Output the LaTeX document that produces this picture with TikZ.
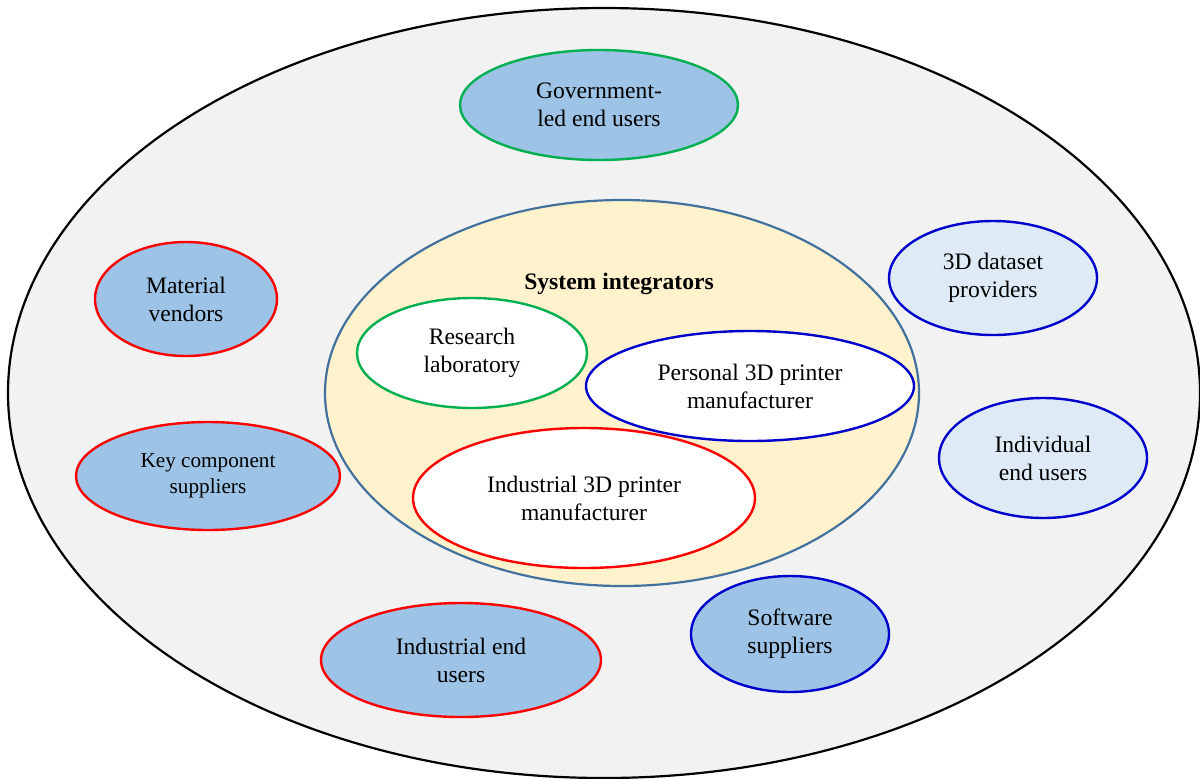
\documentclass[tikz,border=0pt]{standalone}
\usepackage{fontspec}
\setmainfont{Liberation Serif}
\usepackage{xcolor}
\usetikzlibrary{shapes.geometric}

\definecolor{outergrey}{HTML}{F2F2F2}
\definecolor{sysyellow}{HTML}{FFF2CC}
\definecolor{sysborder}{HTML}{41719C}
\definecolor{darkfill}{HTML}{9DC3E6}
\definecolor{lightfill}{HTML}{DEEBF7}
\definecolor{greenline}{HTML}{00B050}
\definecolor{redline}{HTML}{FF0000}
\definecolor{blueline}{HTML}{0000CC}

\tikzset{
  actor/.style={ellipse, draw, line width=1.2pt, inner sep=0pt, align=center,
    font=\fontsize{11.8}{14}\selectfont},
  greenact/.style={actor, draw=greenline},
  redact/.style={actor, draw=redline},
  blueact/.style={actor, draw=blueline}
}

\begin{document}
\begin{tikzpicture}[x=0.5pt,y=-0.5pt]
      \useasboundingbox (0,0) rectangle (1200,778);

      % outer market
      \node[ellipse, draw, line width=1.1pt, fill=outergrey, inner sep=0pt,
        minimum width=596pt, minimum height=385pt] (market) at (604,393) {};

      % system integrators
      \node[ellipse, draw=sysborder, line width=1.1pt, fill=sysyellow, inner sep=0pt,
        minimum width=297pt, minimum height=193pt] (integrators) at (622,393) {};
      \node[font=\fontsize{11.8}{14}\selectfont\bfseries] (sysname) at (619,284) {System integrators};

      \node[greenact, fill=white, minimum width=115pt, minimum height=55pt] (lab) at (472,353) {Research\\laboratory};
      \node[blueact, fill=white, minimum width=164pt, minimum height=55pt] (personal) at (750,386) {Personal 3D printer\\manufacturer};
      \node[redact, fill=white, minimum width=171pt, minimum height=70pt] (industrial) at (584,498) {Industrial 3D printer\\manufacturer};

      % surrounding actors
      \node[greenact, fill=darkfill, minimum width=139pt, minimum height=55pt] (gov) at (599,105) {Government-\\led end users};
      \node[redact, fill=darkfill, minimum width=91pt, minimum height=57pt] (material) at (186,299) {Material\\vendors};
      \node[redact, fill=darkfill, minimum width=132pt, minimum height=54pt,
        font=\fontsize{10.6}{13}\selectfont] (keycomp) at (208,476) {Key component\\suppliers};
      \node[redact, fill=darkfill, minimum width=140pt, minimum height=57pt] (indusers) at (461,660) {Industrial end\\users};
      \node[blueact, fill=darkfill, minimum width=99pt, minimum height=58pt] (software) at (790,634) {Software\\suppliers};
      \node[blueact, fill=lightfill, minimum width=104pt, minimum height=60pt] (individual) at (1043,458) {Individual\\end users};
      \node[blueact, fill=lightfill, minimum width=104pt, minimum height=57pt] (dataset) at (993,278) {3D dataset\\providers};
    \end{tikzpicture}
\end{document}
